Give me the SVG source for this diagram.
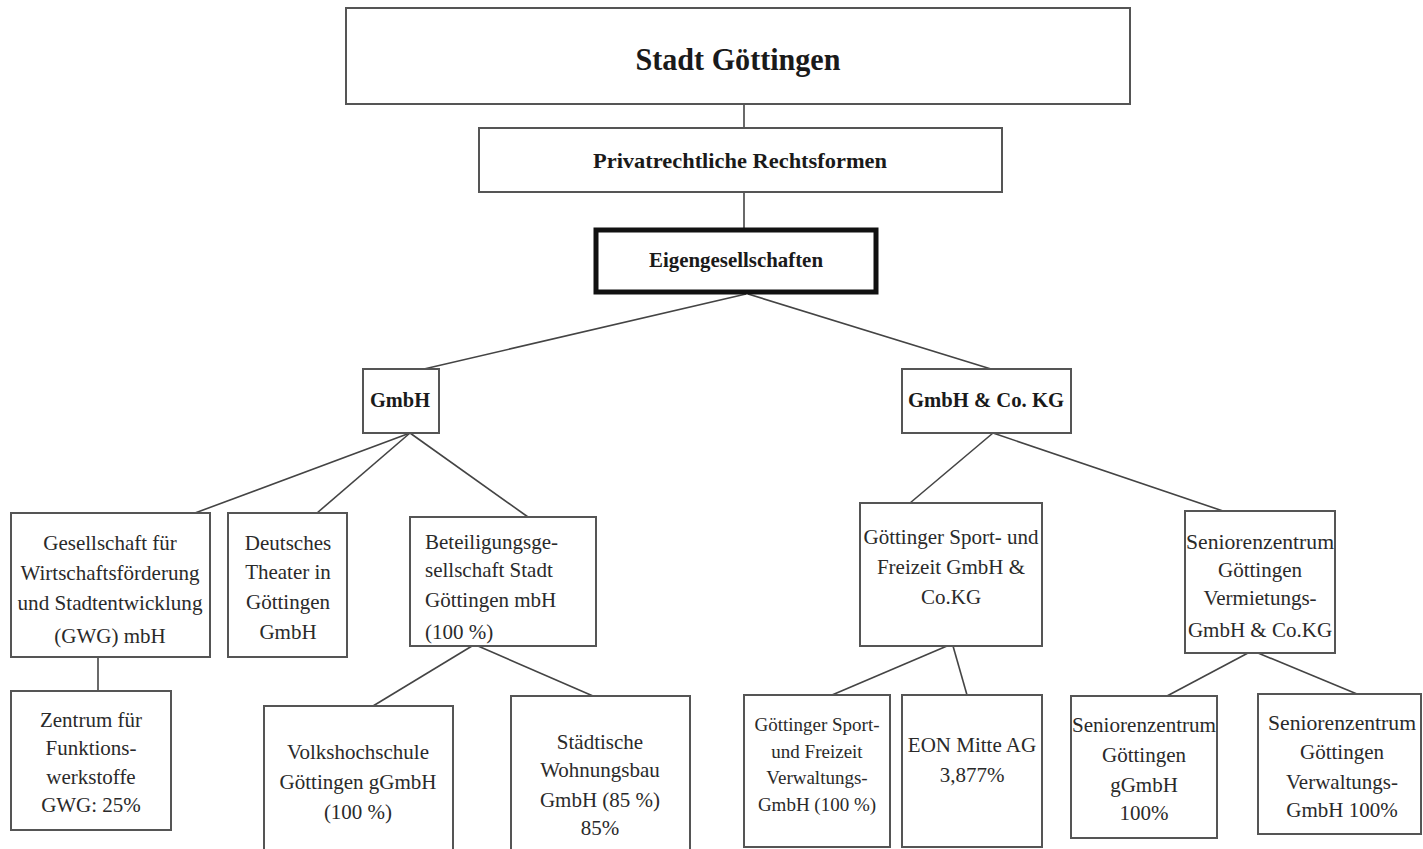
<svg xmlns="http://www.w3.org/2000/svg" width="1423" height="849" viewBox="0 0 1423 849">
<style>
.box{fill:#fff;stroke:#555;stroke-width:2}
.thick{fill:#fff;stroke:#111;stroke-width:5}
.t{font-family:"Liberation Serif","Times New Roman",serif;font-size:21px;fill:#2a2a2a;text-anchor:middle}
.b{font-family:"Liberation Serif","Times New Roman",serif;font-weight:bold;fill:#1a1a1a;text-anchor:middle}
.s{font-size:19px}
.l{text-anchor:start}
#connectors line{stroke:#444;stroke-width:1.6}
</style>
<rect width="1423" height="849" fill="#fff"/>
<g id="connectors">
<line x1="744" y1="104" x2="744" y2="128"/>
<line x1="744" y1="192" x2="744" y2="228"/>
<line x1="746" y1="294" x2="424" y2="369"/>
<line x1="748" y1="294" x2="991" y2="369"/>
<line x1="410" y1="433" x2="195" y2="513"/>
<line x1="410" y1="433" x2="317" y2="513"/>
<line x1="410" y1="433" x2="528" y2="517"/>
<line x1="993" y1="433" x2="910" y2="503"/>
<line x1="993" y1="433" x2="1223" y2="511"/>
<line x1="98" y1="657" x2="98" y2="691"/>
<line x1="472" y1="646" x2="373" y2="706"/>
<line x1="478" y1="646" x2="593" y2="696"/>
<line x1="947" y1="646" x2="832" y2="695"/>
<line x1="953" y1="646" x2="967" y2="695"/>
<line x1="1248" y1="653" x2="1167" y2="696"/>
<line x1="1258" y1="653" x2="1357" y2="694"/>
</g>
<g id="stadt">
<rect class="box" x="346" y="8" width="784" height="96"/>
<text class="b" x="738" y="70" font-size="31" textLength="205" lengthAdjust="spacingAndGlyphs">Stadt Göttingen</text>
</g>
<g id="privat">
<rect class="box" x="479" y="128" width="523" height="64"/>
<text class="b" x="740" y="168" font-size="22" textLength="294" lengthAdjust="spacingAndGlyphs">Privatrechtliche Rechtsformen</text>
</g>
<g id="eigen">
<rect class="thick" x="596" y="230" width="280" height="62"/>
<text class="b" x="736" y="267" font-size="21" textLength="174" lengthAdjust="spacingAndGlyphs">Eigengesellschaften</text>
</g>
<g id="gmbh">
<rect class="box" x="363" y="369" width="76" height="64"/>
<text class="b" x="400" y="407" font-size="21" textLength="60" lengthAdjust="spacingAndGlyphs">GmbH</text>
</g>
<g id="gmbhcokg">
<rect class="box" x="902" y="369" width="169" height="64"/>
<text class="b" x="986" y="407" font-size="21" textLength="156" lengthAdjust="spacingAndGlyphs">GmbH &amp; Co. KG</text>
</g>
<g id="gwg">
<rect class="box" x="11" y="513" width="199" height="144"/>
<text class="t" x="110" y="550">Gesellschaft für</text>
<text class="t" x="110" y="580" textLength="179" lengthAdjust="spacingAndGlyphs">Wirtschaftsförderung</text>
<text class="t" x="110" y="610" textLength="185" lengthAdjust="spacingAndGlyphs">und Stadtentwicklung</text>
<text class="t" x="110" y="643">(GWG) mbH</text>
</g>
<g id="theater">
<rect class="box" x="228" y="513" width="119" height="144"/>
<text class="t" x="288" y="550">Deutsches</text>
<text class="t" x="288" y="579">Theater in</text>
<text class="t" x="288" y="609">Göttingen</text>
<text class="t" x="288" y="639">GmbH</text>
</g>
<g id="beteiligung">
<rect class="box" x="410" y="517" width="186" height="129"/>
<text class="t l" x="425" y="549" font-size="20">Beteiligungsge-</text>
<text class="t l" x="425" y="577" font-size="20">sellschaft Stadt</text>
<text class="t l" x="425" y="607" font-size="22">Göttingen  mbH</text>
<text class="t l" x="425" y="639" font-size="20">(100 %)</text>
</g>
<g id="sport">
<rect class="box" x="860" y="503" width="182" height="143"/>
<text class="t" x="951" y="544">Göttinger Sport- und</text>
<text class="t" x="951" y="574">Freizeit GmbH &amp;</text>
<text class="t" x="951" y="604">Co.KG</text>
</g>
<g id="seniorenvermietung">
<rect class="box" x="1185" y="511" width="150" height="142"/>
<text class="t" x="1260" y="549" textLength="148" lengthAdjust="spacingAndGlyphs">Seniorenzentrum</text>
<text class="t" x="1260" y="577">Göttingen</text>
<text class="t" x="1260" y="605">Vermietungs-</text>
<text class="t" x="1260" y="637">GmbH &amp; Co.KG</text>
</g>
<g id="zentrum">
<rect class="box" x="11" y="691" width="160" height="139"/>
<text class="t" x="91" y="727">Zentrum für</text>
<text class="t" x="91" y="755">Funktions-</text>
<text class="t" x="91" y="784">werkstoffe</text>
<text class="t" x="91" y="812">GWG: 25%</text>
</g>
<g id="vhs">
<rect class="box" x="264" y="706" width="189" height="150"/>
<text class="t" x="358" y="759">Volkshochschule</text>
<text class="t" x="358" y="789">Göttingen gGmbH</text>
<text class="t" x="358" y="819">(100 %)</text>
</g>
<g id="wohnungsbau">
<rect class="box" x="511" y="696" width="179" height="160"/>
<text class="t" x="600" y="749">Städtische</text>
<text class="t" x="600" y="777">Wohnungsbau</text>
<text class="t" x="600" y="807">GmbH (85 %)</text>
<text class="t" x="600" y="835">85%</text>
</g>
<g id="sportverwaltung">
<rect class="box" x="744" y="695" width="146" height="152"/>
<text class="t s" x="817" y="731">Göttinger Sport-</text>
<text class="t s" x="817" y="758">und Freizeit</text>
<text class="t s" x="817" y="784">Verwaltungs-</text>
<text class="t s" x="817" y="811">GmbH  (100 %)</text>
</g>
<g id="eon">
<rect class="box" x="902" y="695" width="140" height="152"/>
<text class="t" x="972" y="752">EON Mitte AG</text>
<text class="t" x="972" y="782">3,877%</text>
</g>
<g id="seniorenggmbh">
<rect class="box" x="1071" y="696" width="146" height="142"/>
<text class="t" x="1144" y="732" textLength="144" lengthAdjust="spacingAndGlyphs">Seniorenzentrum</text>
<text class="t" x="1144" y="762">Göttingen</text>
<text class="t" x="1144" y="792">gGmbH</text>
<text class="t" x="1144" y="820">100%</text>
</g>
<g id="seniorenverwaltung">
<rect class="box" x="1258" y="694" width="163" height="140"/>
<text class="t" x="1342" y="730" textLength="148" lengthAdjust="spacingAndGlyphs">Seniorenzentrum</text>
<text class="t" x="1342" y="759">Göttingen</text>
<text class="t" x="1342" y="789">Verwaltungs-</text>
<text class="t" x="1342" y="817">GmbH 100%</text>
</g>
</svg>
